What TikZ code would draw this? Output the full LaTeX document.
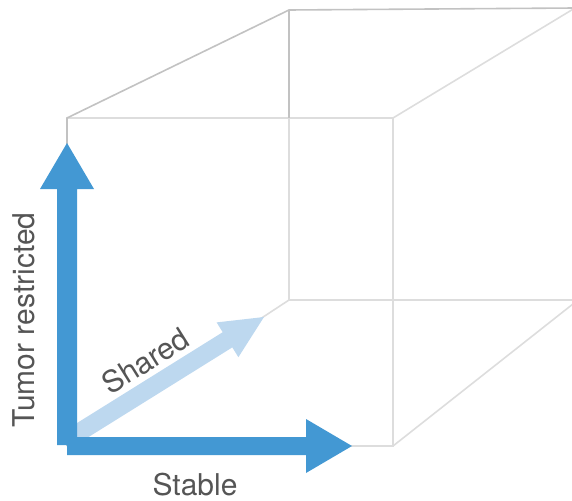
\documentclass[tikz,border=0pt]{standalone}
\usepackage{fontspec}
\setmainfont{TeX Gyre Heros}
\definecolor{edgedark}{HTML}{C2C2C2}
\definecolor{edgelight}{HTML}{DDDDDD}
\definecolor{axisblue}{HTML}{4398D3}
\definecolor{sharedblue}{HTML}{BDD8EF}
\definecolor{labelgray}{HTML}{555555}
\tikzset{
  darkedge/.style={draw=edgedark, line width=1.6pt},
  lightedge/.style={draw=edgelight, line width=1.6pt},
  axislabel/.style={text=labelgray, font=\fontsize{30}{33}\selectfont, inner sep=0pt},
}
\begin{document}
\begin{tikzpicture}[x=1pt,y=-1pt]
\useasboundingbox (0,0) rectangle (572,500);
\begin{scope}
\clip (0,0) rectangle (572,500);
% cube corners
\coordinate (ftl) at (67,118);
\coordinate (ftr) at (393,118);
\coordinate (fbl) at (67,446);
\coordinate (fbr) at (393,446);
\coordinate (btl) at (289,10);
\coordinate (btr) at (575,8);
\coordinate (bbl) at (289,300);
\coordinate (bbr) at (578,300);
\coordinate (bmid) at (289,118);
% light (hidden / front) edges
\draw[lightedge] (ftl) -- (ftr) -- (fbr) -- (fbl);
\draw[lightedge] (ftr) -- (btr);
\draw[lightedge] (fbr) -- (bbr);
\draw[lightedge] (bbl) -- (bbr);
\draw[lightedge] (bmid) -- (bbl) -- (fbl);
% darker edges
\draw[darkedge] (fbl) -- (ftl) -- (btl) -- (btr);
\draw[darkedge] (btl) -- (bmid);
\end{scope}
% shared arrow
\fill[sharedblue] (65.2,430.4) -- (222.7,332.2) -- (216.6,322.4) -- (264,317)
  -- (238.4,357.2) -- (232.3,347.4) -- (74.8,445.6) -- cycle;
% tumor restricted arrow
\fill[axisblue] (57,445) -- (57,189) -- (40,189) -- (67,143) -- (94,189) -- (77,189) -- (77,445) -- cycle;
% stable arrow
\fill[axisblue] (67,437) -- (306,437) -- (306,419) -- (352,446) -- (306,473) -- (306,455) -- (67,455) -- cycle;
% labels
\node[axislabel, rotate=90] (tumor) at (24,320) {Tumor restricted};
\node[axislabel, anchor=base] (stable) at (195,495) {Stable};
\node[axislabel, anchor=base, rotate=32] (shared) at (151,370) {Shared};
\end{tikzpicture}
\end{document}
